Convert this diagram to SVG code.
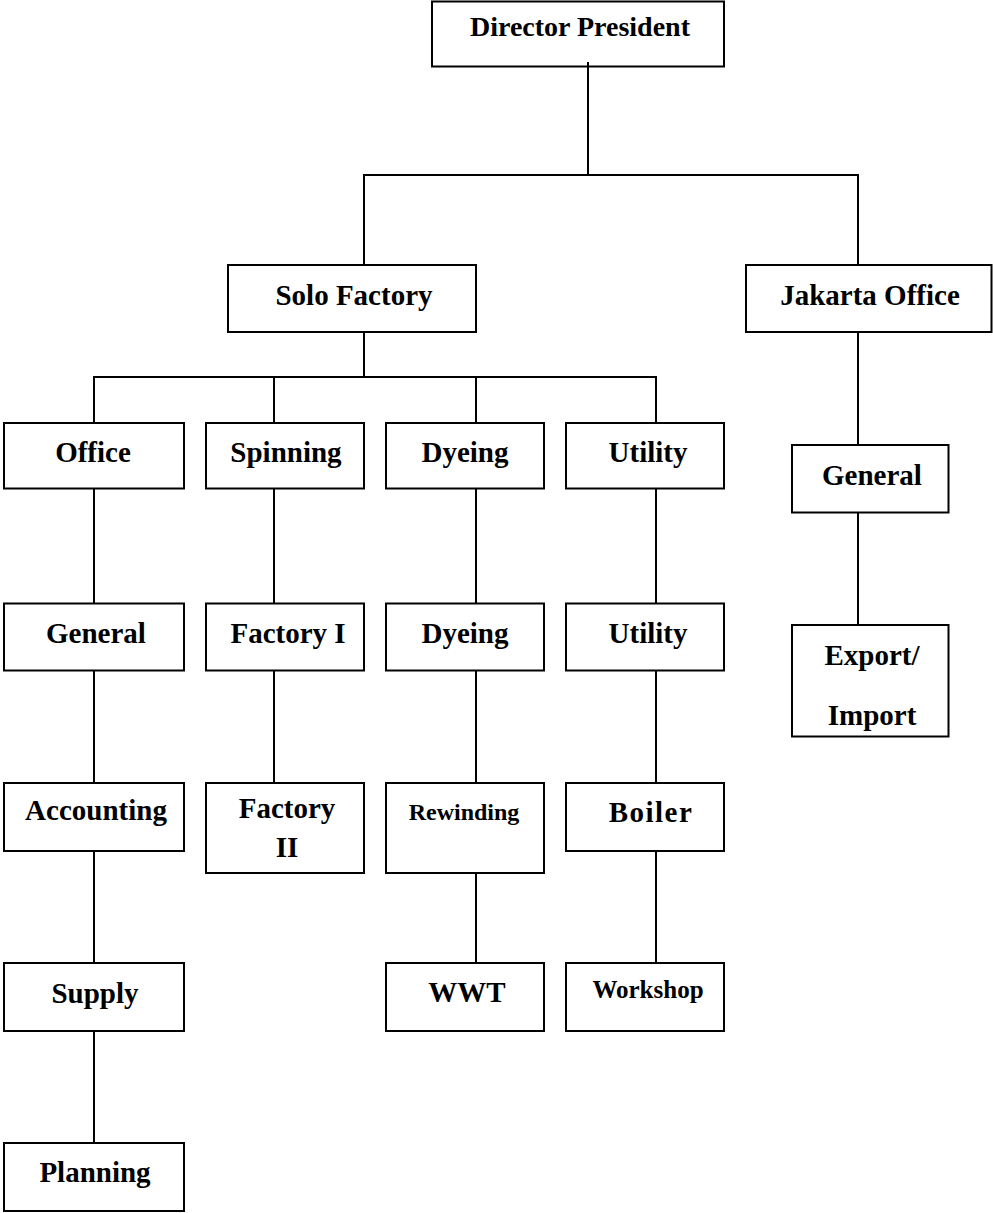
<svg xmlns="http://www.w3.org/2000/svg" width="993" height="1213" viewBox="0 0 993 1213">
<style>
rect{fill:#fff;stroke:#000;stroke-width:2}
line{stroke:#000;stroke-width:2}
text{font-family:"Liberation Serif","Times New Roman",serif;font-weight:bold;font-size:29px;fill:#000;text-anchor:middle}
.sm{font-size:24px}
.ws{font-size:25px}
.dp{font-size:28px}
</style>
<rect x="0" y="0" width="993" height="1213" style="fill:#fff;stroke:none"/>
<g id="director"><rect x="432" y="1.5" width="292" height="65"/><text class="dp" x="580" y="36">Director President</text></g>
<g id="solo"><rect x="228" y="265" width="248" height="67"/><text x="354" y="305">Solo Factory</text></g>
<g id="jakarta"><rect x="746" y="265" width="245.5" height="67"/><text x="870" y="305">Jakarta Office</text></g>
<g id="office"><rect x="4" y="423" width="180" height="65.5"/><text x="93" y="462">Office</text></g>
<g id="spinning"><rect x="206" y="423" width="158" height="65.5"/><text x="286" y="462">Spinning</text></g>
<g id="dyeing1"><rect x="386" y="423" width="158" height="65.5"/><text x="465" y="462">Dyeing</text></g>
<g id="utility1"><rect x="566" y="423" width="158" height="65.5"/><text x="648" y="462">Utility</text></g>
<g id="jgeneral"><rect x="792" y="445" width="156.5" height="67.5"/><text x="872" y="485">General</text></g>
<g id="export"><rect x="792" y="625" width="156.5" height="111.5"/><text x="872" y="665">Export/</text><text x="872" y="725">Import</text></g>
<g id="general"><rect x="4" y="603.5" width="180" height="67"/><text x="96" y="643">General</text></g>
<g id="factory1"><rect x="206" y="603.5" width="158" height="67"/><text x="288" y="643">Factory I</text></g>
<g id="dyeing2"><rect x="386" y="603.5" width="158" height="67"/><text x="465" y="643">Dyeing</text></g>
<g id="utility2"><rect x="566" y="603.5" width="158" height="67"/><text x="648" y="643">Utility</text></g>
<g id="accounting"><rect x="4" y="783" width="180" height="68"/><text x="96" y="820">Accounting</text></g>
<g id="factory2"><rect x="206" y="783" width="158" height="90"/><text x="287" y="818">Factory</text><text x="287" y="857">II</text></g>
<g id="rewinding"><rect x="386" y="783" width="158" height="90"/><text class="sm" x="464" y="820">Rewinding</text></g>
<g id="boiler"><rect x="566" y="783" width="158" height="68"/><text x="651" y="822" letter-spacing="1.5">Boiler</text></g>
<g id="supply"><rect x="4" y="963" width="180" height="68"/><text x="95" y="1003">Supply</text></g>
<g id="wwt"><rect x="386" y="963" width="158" height="68"/><text x="467" y="1002">WWT</text></g>
<g id="workshop"><rect x="566" y="963" width="158" height="68"/><text class="ws" x="648" y="998">Workshop</text></g>
<g id="planning"><rect x="4" y="1143" width="180" height="68"/><text x="95" y="1182">Planning</text></g>
<g id="connectors">
<line x1="588" y1="62" x2="588" y2="175"/>
<line x1="363" y1="175" x2="859" y2="175"/>
<line x1="364" y1="175" x2="364" y2="265"/>
<line x1="858" y1="175" x2="858" y2="265"/>
<line x1="364" y1="332" x2="364" y2="377"/>
<line x1="93" y1="377" x2="657" y2="377"/>
<line x1="94" y1="377" x2="94" y2="423"/>
<line x1="274" y1="377" x2="274" y2="423"/>
<line x1="476" y1="377" x2="476" y2="423"/>
<line x1="656" y1="377" x2="656" y2="423"/>
<line x1="94" y1="488.5" x2="94" y2="603.5"/>
<line x1="94" y1="670.5" x2="94" y2="783"/>
<line x1="94" y1="851" x2="94" y2="963"/>
<line x1="94" y1="1031" x2="94" y2="1143"/>
<line x1="274" y1="488.5" x2="274" y2="603.5"/>
<line x1="274" y1="670.5" x2="274" y2="783"/>
<line x1="476" y1="488.5" x2="476" y2="603.5"/>
<line x1="476" y1="670.5" x2="476" y2="783"/>
<line x1="476" y1="873" x2="476" y2="963"/>
<line x1="656" y1="488.5" x2="656" y2="603.5"/>
<line x1="656" y1="670.5" x2="656" y2="783"/>
<line x1="656" y1="851" x2="656" y2="963"/>
<line x1="858" y1="332" x2="858" y2="445"/>
<line x1="858" y1="512.5" x2="858" y2="625"/>
</g>
</svg>
